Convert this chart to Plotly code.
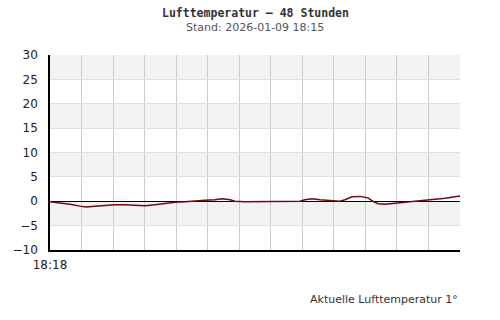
import plotly.graph_objects as go

# pixel-read data converted to hours since start (0..48)
px_pos = [50, 60, 70, 80, 86, 95, 105, 115, 125, 135, 145, 155, 165, 175, 185, 195, 205, 215, 222,
          230, 235, 245, 255, 265, 275, 290, 300, 305, 312, 320, 330, 340, 345, 352, 360, 368, 373,
          378, 385, 395, 405, 415, 425, 435, 445, 455, 460]
temps = [-0.1, -0.3, -0.6, -1.0, -1.2, -1.0, -0.8, -0.7, -0.7, -0.8, -0.9, -0.7, -0.4, -0.2, -0.1,
         0.1, 0.2, 0.3, 0.5, 0.3, 0.0, -0.1, -0.1, 0.0, 0.0, 0.0, 0.0, 0.3, 0.5, 0.3, 0.2, 0.0, 0.3,
         0.9, 1.0, 0.7, 0.0, -0.5, -0.6, -0.4, -0.3, -0.1, 0.1, 0.3, 0.6, 0.9, 1.1]
hours = [(p - 50) / 410 * 48 for p in px_pos]

title = "Lufttemperatur \u2013 48 Stunden"
subtitle = "Stand: 2026-01-09 18:15"
start_label = "18:18"
footer = "Aktuelle Lufttemperatur 1°"
y_ticks = [30, 25, 20, 15, 10, 5, 0, -5, -10]
grid_x = [48 / 13 * i for i in range(14)]

fig = go.Figure()
fig.add_trace(go.Scatter(x=hours, y=temps, mode="lines",
                         line=dict(color="#6e0a14", width=1.5), hoverinfo="skip"))

shapes = []
for lo in [25, 15, 5, -5]:
    shapes.append(dict(type="rect", xref="paper", x0=0, x1=1, yref="y", y0=lo, y1=lo + 5,
                       fillcolor="#f2f2f2", line=dict(width=0), layer="below"))

fig.update_layout(
    width=500, height=320,
    margin=dict(l=50, r=40, t=55, b=70),
    paper_bgcolor="white", plot_bgcolor="white",
    showlegend=False,
    shapes=shapes,
    font=dict(family="DejaVu Sans", size=12, color="#222"),
    xaxis=dict(range=[0, 48], tickvals=grid_x,
               ticktext=[start_label] + [""] * (len(grid_x) - 1),
               showgrid=True, gridcolor="#cccccc", gridwidth=1,
               zeroline=False, showline=True, linecolor="black", linewidth=2,
               ticks="", ticklabelstandoff=3, tickfont=dict(size=12, color="#222")),
    yaxis=dict(range=[-10, 30], tickvals=y_ticks, showgrid=True, gridcolor="#e0e0e0",
               zeroline=True, zerolinecolor="black", zerolinewidth=1,
               showline=True, linecolor="black", linewidth=1.5, ticks="",
               ticklabelstandoff=8, tickfont=dict(size=12, color="#222")),
    annotations=[
        dict(text="<b>" + title + "</b>", x=0.5, y=13, xref="paper", yref="paper",
             showarrow=False, font=dict(family="DejaVu Sans Mono", size=11.5, color="#333"),
             xanchor="center", yanchor="middle"),
        dict(text=subtitle, x=0.5, y=27, xref="paper", yref="paper",
             showarrow=False, font=dict(family="DejaVu Sans", size=11, color="#555"),
             xanchor="center", yanchor="middle"),
        dict(text=footer, x=1, y=-0.255, xref="paper", yref="paper",
             showarrow=False, font=dict(family="DejaVu Sans", size=11, color="#333"),
             xanchor="right", yanchor="middle"),
    ],
)
# title annotations use pixel positions: convert to paper coordinates
plot_h = 320 - 55 - 70
fig.layout.annotations[0].y = 1 + (55 - 13) / plot_h
fig.layout.annotations[1].y = 1 + (55 - 27) / plot_h
fig.layout.annotations[2].y = -(299 - 250) / plot_h

fig.write_html("out.html")
